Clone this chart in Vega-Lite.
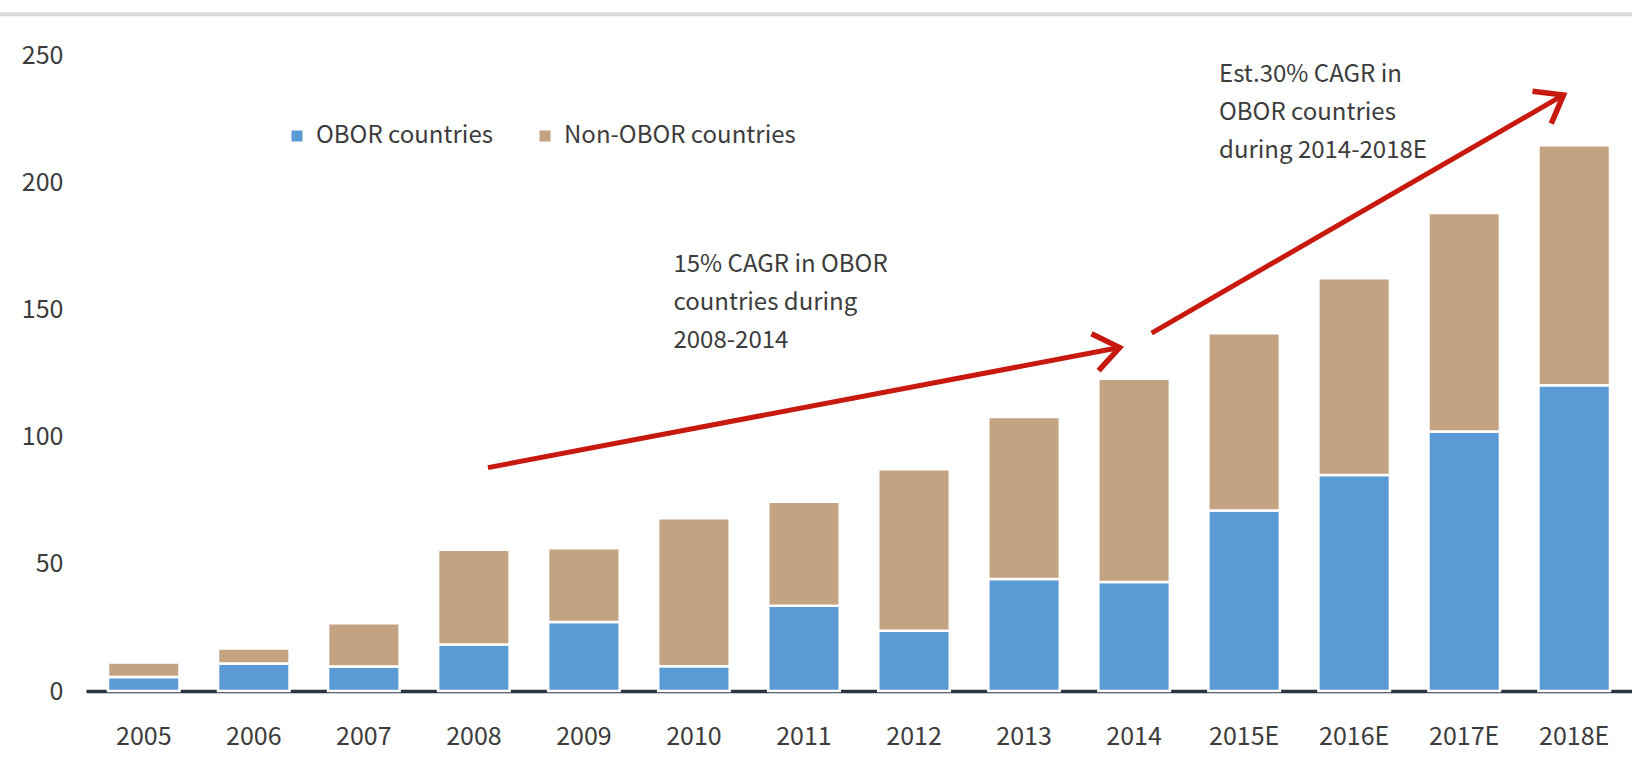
{
  "$schema": "https://vega.github.io/schema/vega-lite/v6.json",
  "autosize": {"type": "none"},
  "padding": {"left": 86, "top": 55, "right": 0, "bottom": 69},
  "width": 1546,
  "height": 636,
  "background": "white",
  "config": {
    "view": {"stroke": null},
    "font": "Noto Sans CJK KR",
    "axis": {"labelFont": "Noto Sans CJK KR", "labelColor": "#3c3c3c", "labelFontSize": 25},
    "legend": {"labelFont": "Noto Sans CJK KR", "labelColor": "#3c3c3c", "labelFontSize": 24}
  },
  "datasets": {
    "bars": [
      {"year": "2005", "series": "OBOR countries", "k": 1, "value": 5.5},
      {"year": "2005", "series": "Non-OBOR countries", "k": 2, "value": 5.7},
      {"year": "2006", "series": "OBOR countries", "k": 1, "value": 10.8},
      {"year": "2006", "series": "Non-OBOR countries", "k": 2, "value": 5.9},
      {"year": "2007", "series": "OBOR countries", "k": 1, "value": 9.6},
      {"year": "2007", "series": "Non-OBOR countries", "k": 2, "value": 17.0},
      {"year": "2008", "series": "OBOR countries", "k": 1, "value": 18.3},
      {"year": "2008", "series": "Non-OBOR countries", "k": 2, "value": 37.2},
      {"year": "2009", "series": "OBOR countries", "k": 1, "value": 27.1},
      {"year": "2009", "series": "Non-OBOR countries", "k": 2, "value": 29.0},
      {"year": "2010", "series": "OBOR countries", "k": 1, "value": 9.7},
      {"year": "2010", "series": "Non-OBOR countries", "k": 2, "value": 58.2},
      {"year": "2011", "series": "OBOR countries", "k": 1, "value": 33.5},
      {"year": "2011", "series": "Non-OBOR countries", "k": 2, "value": 40.9},
      {"year": "2012", "series": "OBOR countries", "k": 1, "value": 23.7},
      {"year": "2012", "series": "Non-OBOR countries", "k": 2, "value": 63.5},
      {"year": "2013", "series": "OBOR countries", "k": 1, "value": 44.0},
      {"year": "2013", "series": "Non-OBOR countries", "k": 2, "value": 63.7},
      {"year": "2014", "series": "OBOR countries", "k": 1, "value": 42.8},
      {"year": "2014", "series": "Non-OBOR countries", "k": 2, "value": 79.9},
      {"year": "2015E", "series": "OBOR countries", "k": 1, "value": 71.0},
      {"year": "2015E", "series": "Non-OBOR countries", "k": 2, "value": 69.6},
      {"year": "2016E", "series": "OBOR countries", "k": 1, "value": 84.9},
      {"year": "2016E", "series": "Non-OBOR countries", "k": 2, "value": 77.3},
      {"year": "2017E", "series": "OBOR countries", "k": 1, "value": 102.0},
      {"year": "2017E", "series": "Non-OBOR countries", "k": 2, "value": 85.9},
      {"year": "2018E", "series": "OBOR countries", "k": 1, "value": 120.2},
      {"year": "2018E", "series": "Non-OBOR countries", "k": 2, "value": 94.3}
    ],
    "arrow1": [
      {"pos": 3.64, "v": 87.8},
      {"pos": 9.36, "v": 135}
    ],
    "arrow2": [
      {"pos": 9.65, "v": 140.7},
      {"pos": 13.38, "v": 234.3}
    ],
    "notes": [
      {"pos": 5.32, "v": 172, "label": "15% CAGR in OBOR\ncountries  during\n2008-2014"},
      {"pos": 10.26, "v": 247, "label": "Est.30%  CAGR in\nOBOR  countries\nduring  2014-2018E"}
    ],
    "topline": [
      {"pos": -0.8, "v": 266},
      {"pos": 14.1, "v": 266}
    ]
  },
  "resolve": {"scale": {"x": "independent"}},
  "layer": [
    {
      "data": {"name": "bars"},
      "mark": {"type": "bar", "stroke": "white", "strokeWidth": 2.5},
      "encoding": {
        "x": {
          "field": "year", "type": "nominal", "sort": null,
          "scale": {"paddingInner": 0.35, "paddingOuter": 0.2},
          "axis": {"title": null, "ticks": false, "domainColor": "#2b3440", "domainWidth": 3.5, "labelPadding": 33, "labelAngle": 0}
        },
        "y": {
          "field": "value", "type": "quantitative", "stack": "zero",
          "scale": {"domain": [0, 250], "nice": false},
          "axis": {"title": null, "values": [0, 50, 100, 150, 200, 250], "domain": false, "ticks": false, "grid": false, "labelPadding": 23}
        },
        "color": {
          "field": "series", "type": "nominal",
          "scale": {"domain": ["OBOR countries", "Non-OBOR countries"], "range": ["#5b9bd5", "#c4a383"]},
          "legend": {"title": null, "orient": "none", "legendX": 199, "legendY": 69, "padding": 0, "direction": "horizontal", "symbolType": "square", "symbolSize": 121, "symbolStrokeWidth": 0, "columnPadding": 40, "labelOffset": 7, "labelLimit": 500}
        },
        "order": {"field": "k", "type": "quantitative"}
      }
    },
    {
      "data": {"name": "topline"},
      "mark": {"type": "line", "color": "#d9d9d9", "strokeWidth": 4, "clip": false},
      "encoding": {
        "x": {"field": "pos", "type": "quantitative", "scale": {"domain": [0, 14], "nice": false, "zero": false}, "axis": null},
        "y": {"field": "v", "type": "quantitative"}
      }
    },
    {
      "data": {"name": "arrow1"},
      "mark": {"type": "line", "color": "#c8190f", "strokeWidth": 5, "strokeCap": "butt"},
      "encoding": {
        "x": {"field": "pos", "type": "quantitative", "scale": {"domain": [0, 14], "nice": false, "zero": false}, "axis": null},
        "y": {"field": "v", "type": "quantitative"}
      }
    },
    {
      "data": {"name": "arrow1"},
      "transform": [{"filter": "datum.pos > 5"}],
      "mark": {"type": "point", "shape": "M -1 -0.75 L 0 0 L -1 0.75", "filled": false, "stroke": "#c8190f", "strokeWidth": 5.5, "size": 2500, "angle": 349.2, "opacity": 1, "strokeJoin": "miter"},
      "encoding": {
        "x": {"field": "pos", "type": "quantitative", "scale": {"domain": [0, 14], "nice": false, "zero": false}, "axis": null},
        "y": {"field": "v", "type": "quantitative"}
      }
    },
    {
      "data": {"name": "arrow2"},
      "mark": {"type": "line", "color": "#c8190f", "strokeWidth": 5, "strokeCap": "butt"},
      "encoding": {
        "x": {"field": "pos", "type": "quantitative", "scale": {"domain": [0, 14], "nice": false, "zero": false}, "axis": null},
        "y": {"field": "v", "type": "quantitative"}
      }
    },
    {
      "data": {"name": "arrow2"},
      "transform": [{"filter": "datum.pos > 11"}],
      "mark": {"type": "point", "shape": "M -1 -0.75 L 0 0 L -1 0.75", "filled": false, "stroke": "#c8190f", "strokeWidth": 5.5, "size": 2500, "angle": 330, "opacity": 1, "strokeJoin": "miter"},
      "encoding": {
        "x": {"field": "pos", "type": "quantitative", "scale": {"domain": [0, 14], "nice": false, "zero": false}, "axis": null},
        "y": {"field": "v", "type": "quantitative"}
      }
    },
    {
      "data": {"name": "notes"},
      "mark": {"type": "text", "align": "left", "baseline": "top", "lineBreak": "\n", "lineHeight": 38, "fontSize": 24, "color": "#3c3c3c"},
      "encoding": {
        "x": {"field": "pos", "type": "quantitative", "scale": {"domain": [0, 14], "nice": false, "zero": false}, "axis": null},
        "y": {"field": "v", "type": "quantitative"},
        "text": {"field": "label"}
      }
    }
  ]
}
